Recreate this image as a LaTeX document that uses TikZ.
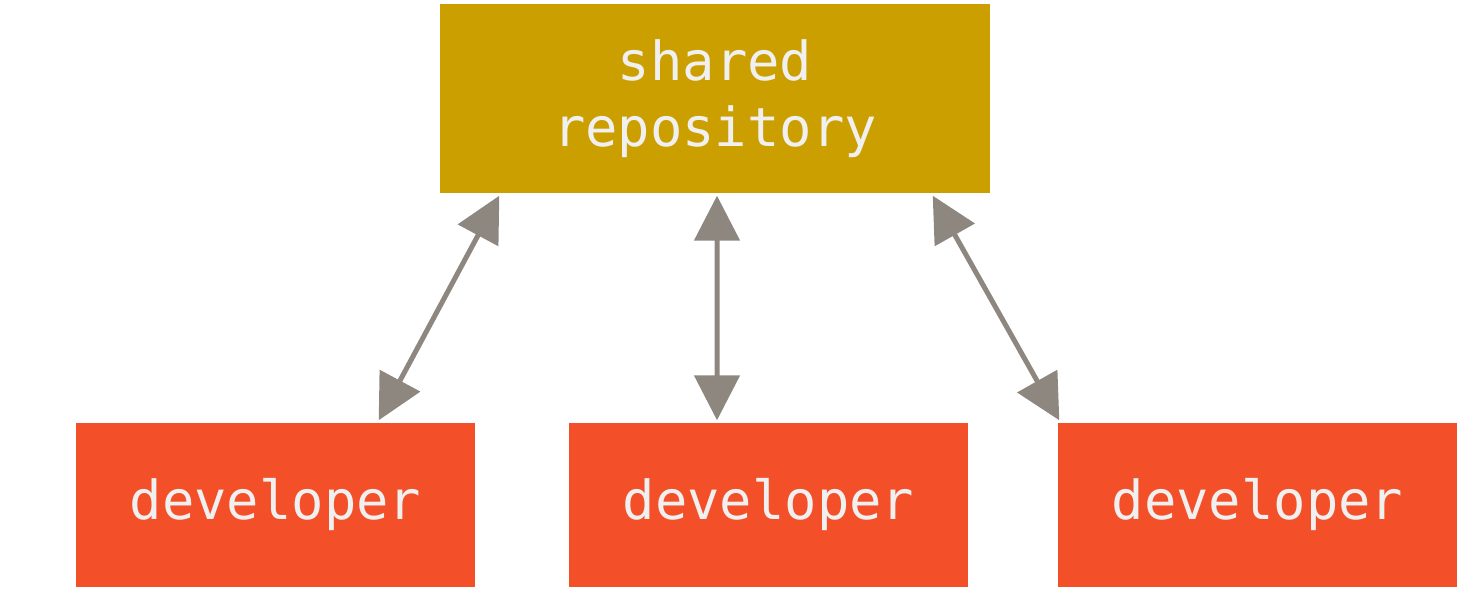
\documentclass[tikz,border=0pt]{standalone}
\usepackage{fontspec}
\setmonofont{DejaVu Sans Mono}
\usetikzlibrary{arrows.meta, positioning}
\definecolor{repogold}{HTML}{CC9F00}
\definecolor{devred}{HTML}{F34F29}
\definecolor{linkgray}{HTML}{8E877F}
\begin{document}
\begin{tikzpicture}[
  box/.style={minimum width=3.99cm, minimum height=1.64cm, inner sep=0pt, text=white!94!black,
    font=\ttfamily\fontsize{15.3}{18.8}\selectfont, align=center},
  link/.style={line width=0.05cm, linkgray, {Triangle[length=0.45cm, width=0.45cm]}-{Triangle[length=0.45cm, width=0.45cm]}}
]
\useasboundingbox (0,0) rectangle (14.79,6.13);
% shared repository
\node[box, fill=repogold, minimum width=5.5cm, minimum height=1.89cm] (repo) at (7.15,5.145) {shared\\repository};
% developers
\node[box, fill=devred] (dev1) at (2.755,1.08) {developer};
\node[box, fill=devred] (dev2) at (7.685,1.08) {developer};
\node[box, fill=devred] (dev3) at (12.575,1.08) {developer};
% links
\draw[link] ([xshift=0.6cm, yshift=-0.02cm]repo.south west) -- ([xshift=-0.97cm, yshift=0.02cm]dev1.north east);
\draw[link] ([xshift=0.02cm, yshift=-0.02cm]repo.south) -- ([xshift=-0.515cm, yshift=0.02cm]dev2.north);
\draw[link] ([xshift=-0.58cm, yshift=-0.02cm]repo.south east) -- ([xshift=0.02cm, yshift=0.02cm]dev3.north west);
\end{tikzpicture}
\end{document}
